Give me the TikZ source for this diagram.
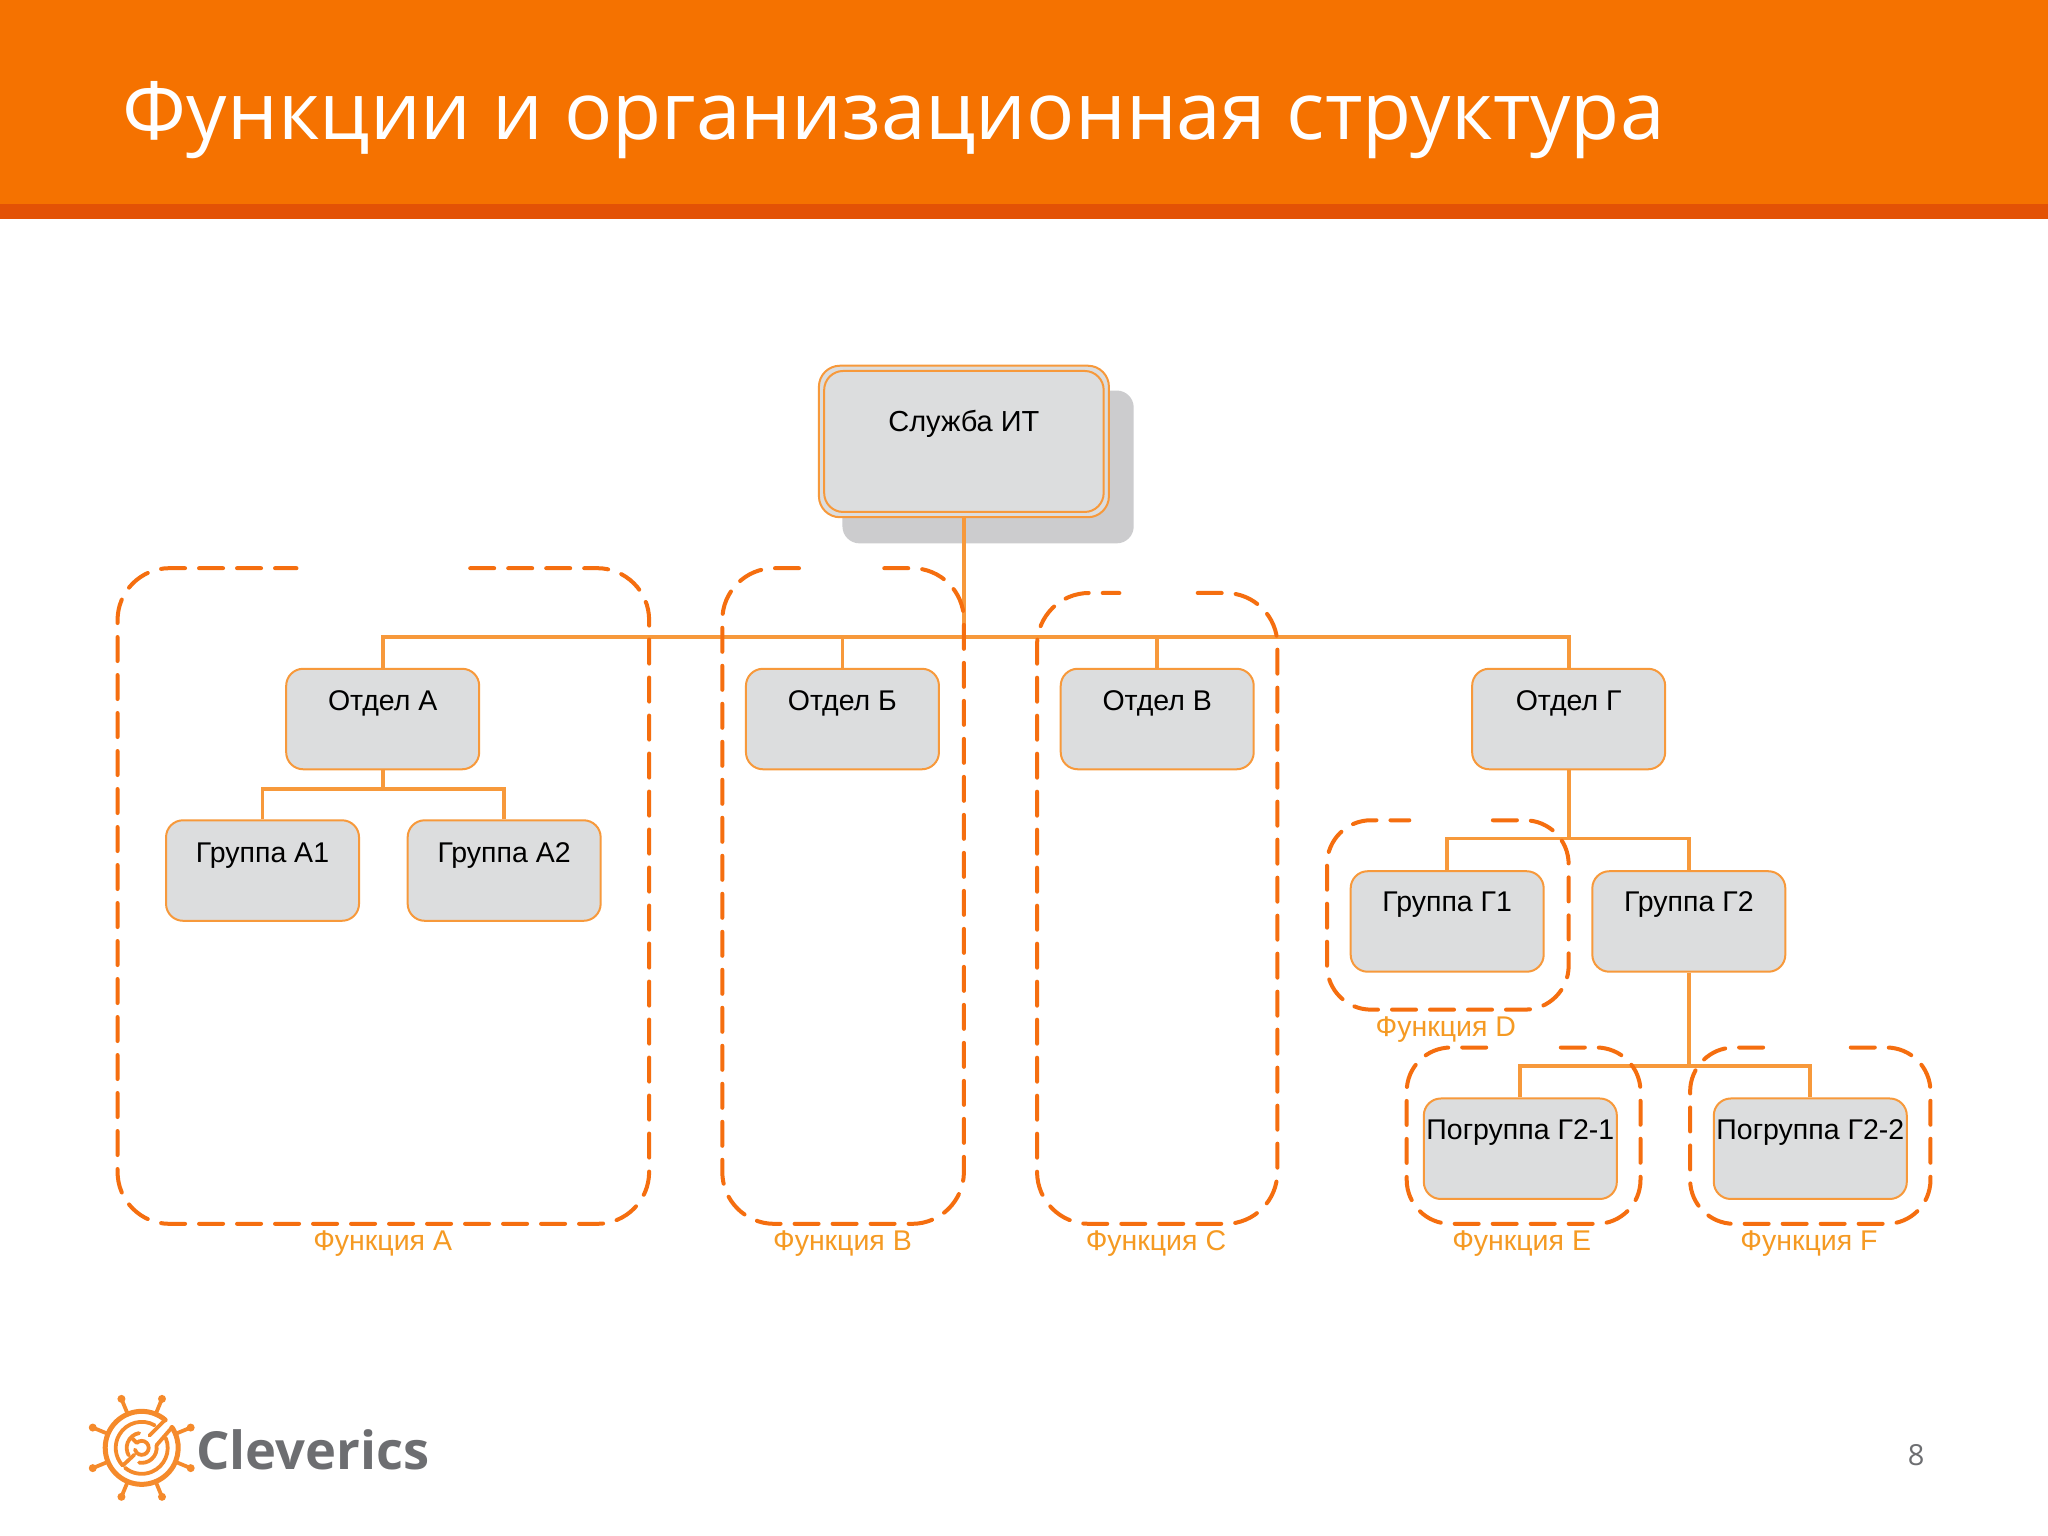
\documentclass[tikz,border=0pt]{standalone}
\usepackage{fontspec}
\setmainfont{Liberation Sans}
\newfontfamily\titlefont{Open Sans}
\newcommand{\toptext}[2][8.5pt]{\smash{\raisebox{#1}{#2}}}
\definecolor{hdr}{HTML}{F57200}
\definecolor{band}{HTML}{E35205}
\definecolor{conn}{HTML}{F7993B}
\definecolor{fr}{HTML}{F56E0F}
\definecolor{boxfill}{HTML}{DCDDDE}
\definecolor{shadowc}{HTML}{CCCCCE}
\definecolor{lab}{HTML}{F59A23}
\definecolor{logoc}{HTML}{F58A2B}
\definecolor{logot}{HTML}{6D6E71}
\tikzset{
 orgbox/.style={draw=conn,fill=boxfill,line width=2pt,rounded corners=17pt,minimum width=193pt,minimum height=100.5pt,inner sep=0pt,font=\fontsize{28.5}{30}\selectfont,text=black},
 conline/.style={draw=conn,line width=3.8pt},
 frameline/.style={draw=fr,line width=4pt,line cap=round,dash pattern=on 24pt off 14pt},
 funclabel/.style={text=lab,font=\fontsize{28.5}{30}\selectfont,inner sep=0pt},
 wheel/.style={draw=logoc,line width=3.8pt,line cap=round}
}
\begin{document}
\begin{tikzpicture}[x=1.30612pt,y=-1.30612pt]
\useasboundingbox (0,0) rectangle (1568,1176);
\fill[white] (0,0) rectangle (1568,1176);
\fill[hdr] (0,0) rectangle (1568,156);
\fill[band] (0,156) rectangle (1568,168);
\node[anchor=base west,inner sep=0pt,text=white,font=\titlefont\fontsize{80.2}{90}\selectfont] (title) at (94,107) {Функции и организационная структура};
% top box
\fill[shadowc,rounded corners=17pt] (645,299) rectangle (868,416);
\node[orgbox,minimum width=290pt,minimum height=151.5pt,rounded corners=21pt] (top) at (738,338) {};
\node[orgbox,minimum width=279.5pt,minimum height=141pt,rounded corners=19pt,font=\fontsize{29}{30}\selectfont] (topin) at (738,338) {\toptext[9.5pt]{Служба ИТ}};
% boxes
\node[orgbox] (otdA) at (293,550.5) {\toptext{Отдел А}};
\node[orgbox] (otdB) at (645,550.5) {\toptext{Отдел Б}};
\node[orgbox] (otdV) at (886,550.5) {\toptext{Отдел В}};
\node[orgbox] (otdG) at (1201,550.5) {\toptext{Отдел Г}};
\node[orgbox] (grA1) at (201,666.5) {\toptext{Группа А1}};
\node[orgbox] (grA2) at (386,666.5) {\toptext{Группа А2}};
\node[orgbox] (grG1) at (1108,705.5) {\toptext[9.7pt]{Группа Г1}};
\node[orgbox] (grG2) at (1293,705.5) {\toptext[9.7pt]{Группа Г2}};
\node[orgbox] (pg1) at (1164,879.5) {\toptext[9.7pt]{Погруппа Г2-1}};
\node[orgbox] (pg2) at (1386,879.5) {\toptext[9.7pt]{Погруппа Г2-2}};
% connectors
\coordinate (busTop) at (738,488);
\coordinate (busA) at (293,604);
\coordinate (busG) at (1201,642);
\coordinate (busP) at (1293,816);
\draw[conline] (top.south) -- (busTop);
\foreach \n in {otdA,otdB,otdV,otdG} \draw[conline] (\n.north) |- (busTop);
\draw[conline] (otdA.south) -- (busA);
\foreach \n in {grA1,grA2} \draw[conline] (\n.north) |- (busA);
\draw[conline] (otdG.south) -- (busG);
\foreach \n in {grG1,grG2} \draw[conline] (\n.north) |- (busG);
\draw[conline] (grG2.south) -- (busP);
\foreach \n in {pg1,pg2} \draw[conline] (\n.north) |- (busP);
% function frames
\draw[frameline,rounded corners=52pt] (360,435) -| (497,937) -| (90,435) -- (227,435);
\draw[frameline,rounded corners=52pt] (677,435) -| (738,937) -| (553,435) -- (615,435);
\draw[frameline,rounded corners=52pt] (917,454) -| (978,937) -| (794,454) -- (857,454);
\draw[frameline,rounded corners=44pt] (1143,628) -| (1201,773) -| (1016,628) -- (1079,628);
\draw[frameline,rounded corners=44pt] (1195,802) -| (1256,937) -| (1077,802) -- (1138,802);
\draw[frameline,rounded corners=44pt] (1417,802) -| (1478,937) -| (1294,802) -- (1357,802);
% labels
\node[funclabel] (fA) at (293,952) {Функция A};
\node[funclabel] (fB) at (645,952) {Функция B};
\node[funclabel] (fC) at (885,952) {Функция C};
\node[funclabel] (fD) at (1107,788) {Функция D};
\node[funclabel] (fE) at (1165,952) {Функция E};
\node[funclabel] (fF) at (1385,952) {Функция F};
% footer
\node[anchor=base west,inner sep=0pt,text=logot,font=\titlefont\bfseries\fontsize{52.5}{56}\selectfont] (brand) at (150,1125) {Cleverics};
\node[text=logot,inner sep=0pt,font=\titlefont\fontsize{29}{30}\selectfont] (pagenum) at (1467,1114) {8};
% logo
\begin{scope}[shift={(108.5,1108.5)},x=1pt,y=1pt]
 \foreach \a in {22.5,67.5,...,337.5}{
  \draw[wheel,line width=3.8pt] (\a:36) -- (\a:53);
  \fill[logoc] (\a:53) circle (4pt);
 }
 \draw[wheel,line width=5pt] (50:36.5) arc[start angle=50,end angle=394,radius=36.5];
 \draw[wheel] (50:36.5) -- (58:14.5);
 \draw[wheel] (34:36.5) -- (10:15);
 \draw[wheel] (60:26) arc[start angle=60,end angle=223,radius=26];
 \draw[wheel] (223:25) -- (223:10);
 \draw[wheel] (22:26) arc[start angle=22,end angle=-130,radius=26];
 \draw[wheel] (10:15) arc[start angle=10,end angle=-100,radius=15];
 \draw[wheel] (100:15) arc[start angle=100,end angle=210,radius=15];
 \draw[wheel] (135:7) arc[start angle=135,end angle=-165,radius=7];
 \draw[wheel] (135:7) -- (135:13);
\end{scope}
\end{tikzpicture}
\end{document}
